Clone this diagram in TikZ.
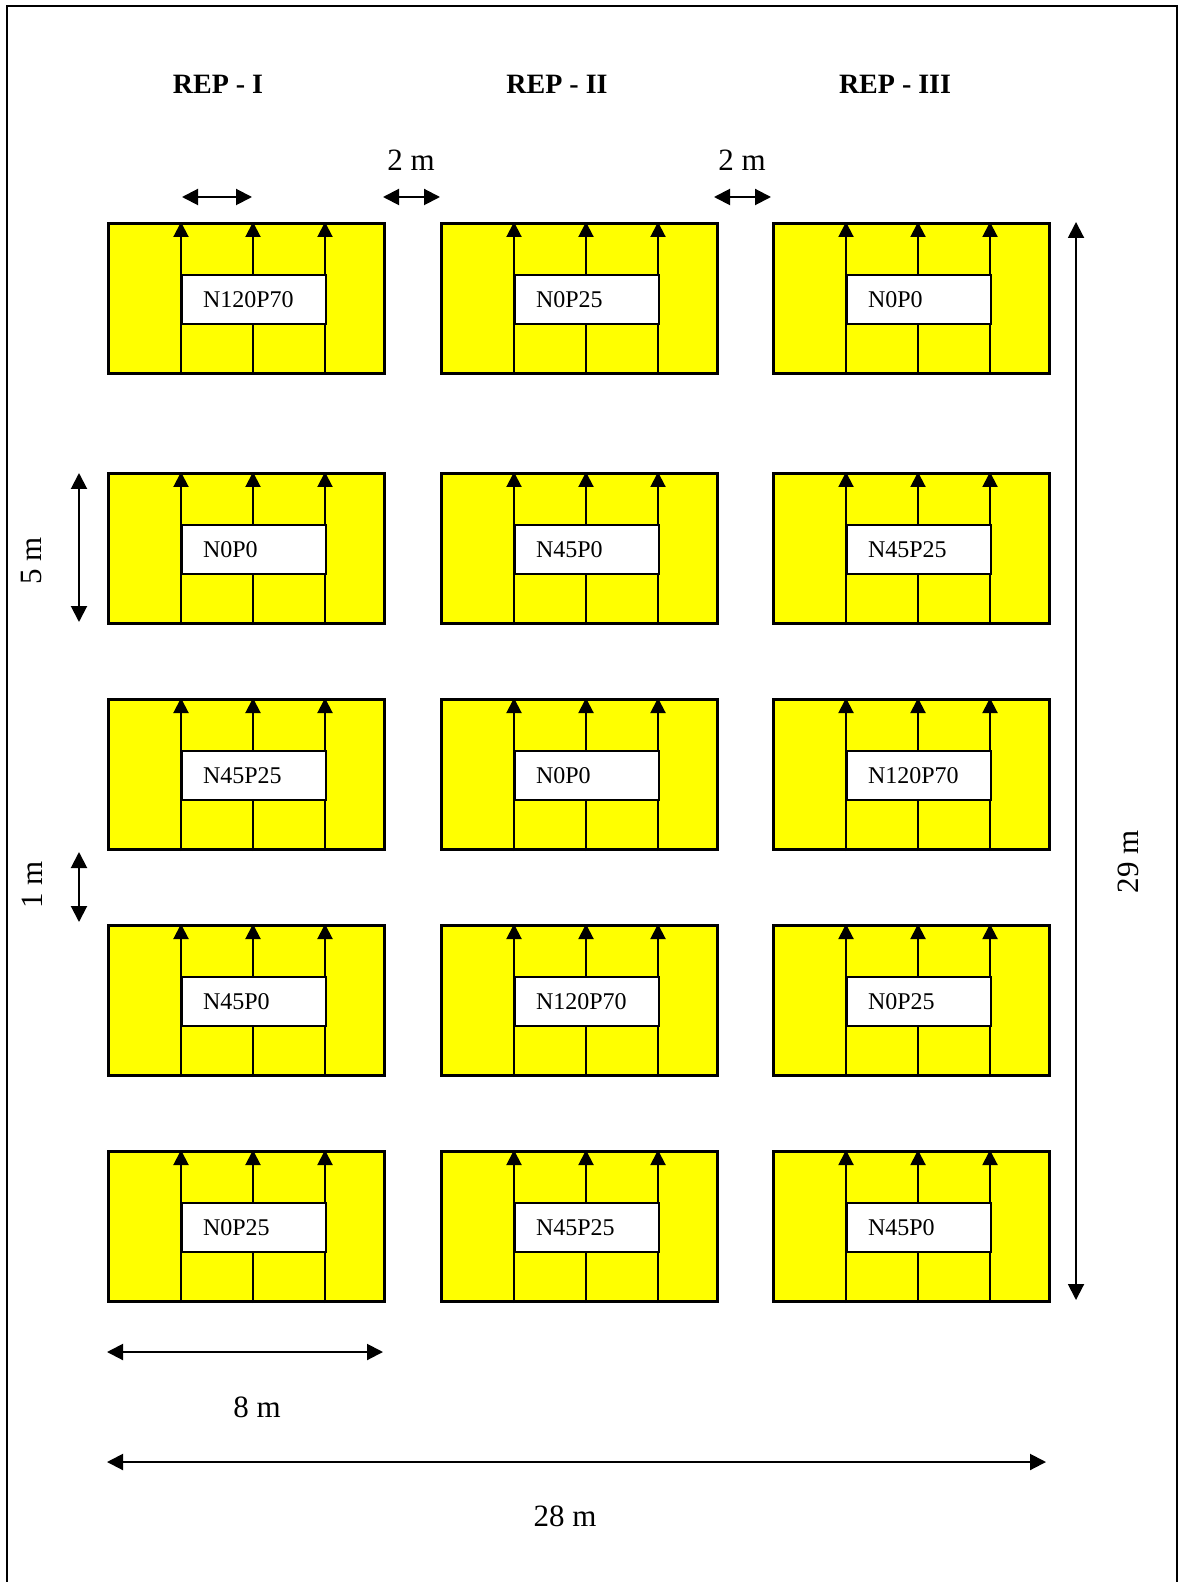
\documentclass[tikz,border=0pt]{standalone}
\usepackage{fontspec}
\setmainfont{Liberation Serif}
\usepackage{xcolor}
\usepackage{tikz}
\usetikzlibrary{arrows.meta, positioning}
\definecolor{plotyellow}{RGB}{255, 255, 0}

\begin{document}
\begin{tikzpicture}[
    x=0.5pt, y=-0.5pt,
    every node/.style={font=\fontsize{12}{14}\selectfont},
    plot/.style={rectangle, draw, line width=1.5pt, fill=plotyellow, minimum width=138pt, minimum height=75pt, anchor=north west, inner sep=0pt},
    trt/.style={rectangle, draw, line width=1pt, fill=white, minimum width=72pt, minimum height=24.5pt, text width=51pt, inner xsep=10.5pt, inner ysep=0pt, align=left, anchor=north west},
    furrow/.style={-{Triangle[length=7.5pt, width=7.5pt]}, line width=1pt},
    dim/.style={{Triangle[length=8pt, width=8pt]}-{Triangle[length=8pt, width=8pt]}, line width=1pt},
    dimlabel/.style={font=\fontsize{15.5}{18}\selectfont},
    rep/.style={font=\bfseries\fontsize{14}{16}\selectfont}
]
\useasboundingbox (0,0) rectangle (1180,1582);
\draw[line width=1pt] (7,1582) -- (7,6) -- (1177,6) -- (1177,1582);

\node[rep] (rep1) at (218,84) {REP - I};
\node[rep] (rep2) at (557,84) {REP - II};
\node[rep] (rep3) at (895,84) {REP - III};

\node[plot] (p11) at (107,222) {};
\node[plot] (p12) at (440,222) {};
\node[plot] (p13) at (772,222) {};
\node[plot] (p21) at (107,472) {};
\node[plot] (p22) at (440,472) {};
\node[plot] (p23) at (772,472) {};
\node[plot] (p31) at (107,698) {};
\node[plot] (p32) at (440,698) {};
\node[plot] (p33) at (772,698) {};
\node[plot] (p41) at (107,924) {};
\node[plot] (p42) at (440,924) {};
\node[plot] (p43) at (772,924) {};
\node[plot] (p51) at (107,1150) {};
\node[plot] (p52) at (440,1150) {};
\node[plot] (p53) at (772,1150) {};

\foreach \p in {p11,p12,p13,p21,p22,p23,p31,p32,p33,p41,p42,p43,p51,p52,p53}
    \foreach \dx in {37pt,73pt,109pt}
        \draw[furrow] ([xshift=\dx]\p.south west) -- ([xshift=\dx]\p.north west);

\node[trt] (t11) at ([xshift=37pt, yshift=-26pt]p11.north west) {N120P70};
\node[trt] (t12) at ([xshift=37pt, yshift=-26pt]p12.north west) {N0P25};
\node[trt] (t13) at ([xshift=37pt, yshift=-26pt]p13.north west) {N0P0};
\node[trt] (t21) at ([xshift=37pt, yshift=-26pt]p21.north west) {N0P0};
\node[trt] (t22) at ([xshift=37pt, yshift=-26pt]p22.north west) {N45P0};
\node[trt] (t23) at ([xshift=37pt, yshift=-26pt]p23.north west) {N45P25};
\node[trt] (t31) at ([xshift=37pt, yshift=-26pt]p31.north west) {N45P25};
\node[trt] (t32) at ([xshift=37pt, yshift=-26pt]p32.north west) {N0P0};
\node[trt] (t33) at ([xshift=37pt, yshift=-26pt]p33.north west) {N120P70};
\node[trt] (t41) at ([xshift=37pt, yshift=-26pt]p41.north west) {N45P0};
\node[trt] (t42) at ([xshift=37pt, yshift=-26pt]p42.north west) {N120P70};
\node[trt] (t43) at ([xshift=37pt, yshift=-26pt]p43.north west) {N0P25};
\node[trt] (t51) at ([xshift=37pt, yshift=-26pt]p51.north west) {N0P25};
\node[trt] (t52) at ([xshift=37pt, yshift=-26pt]p52.north west) {N45P25};
\node[trt] (t53) at ([xshift=37pt, yshift=-26pt]p53.north west) {N45P0};

% dimension marks
\coordinate (rowA) at (182,197);
\coordinate (rowB) at (252,197);
\coordinate (gap1a) at (383,197);
\coordinate (gap1b) at (440,197);
\coordinate (gap2a) at (714,197);
\coordinate (gap2b) at (771,197);
\coordinate (lenA) at (79,473);
\coordinate (lenB) at (79,622);
\coordinate (pathA) at (79,852);
\coordinate (pathB) at (79,922);
\coordinate (widA) at (107,1352);
\coordinate (widB) at (383,1352);
\coordinate (totA) at (107,1462);
\coordinate (totB) at (1046,1462);
\coordinate (htA) at (1076,222);
\coordinate (htB) at (1076,1300);

\draw[dim] (rowA) -- (rowB);
\draw[dim] (gap1a) -- (gap1b);
\draw[dim] (gap2a) -- (gap2b);
\draw[dim] (lenA) -- (lenB);
\draw[dim] (pathA) -- (pathB);
\draw[dim] (widA) -- (widB);
\draw[dim] (totA) -- (totB);
\draw[dim] (htA) -- (htB);

\node[dimlabel] (gap1) at (411,160) {2 m};
\node[dimlabel] (gap2) at (742,160) {2 m};
\node[dimlabel, rotate=90] (len) at (32,561) {5 m};
\node[dimlabel, rotate=90] (path) at (32,885) {1 m};
\node[dimlabel] (wid) at (257,1407) {8 m};
\node[dimlabel] (tot) at (565,1516) {28 m};
\node[dimlabel, rotate=90] (ht) at (1128,862) {29 m};
\end{tikzpicture}
\end{document}
